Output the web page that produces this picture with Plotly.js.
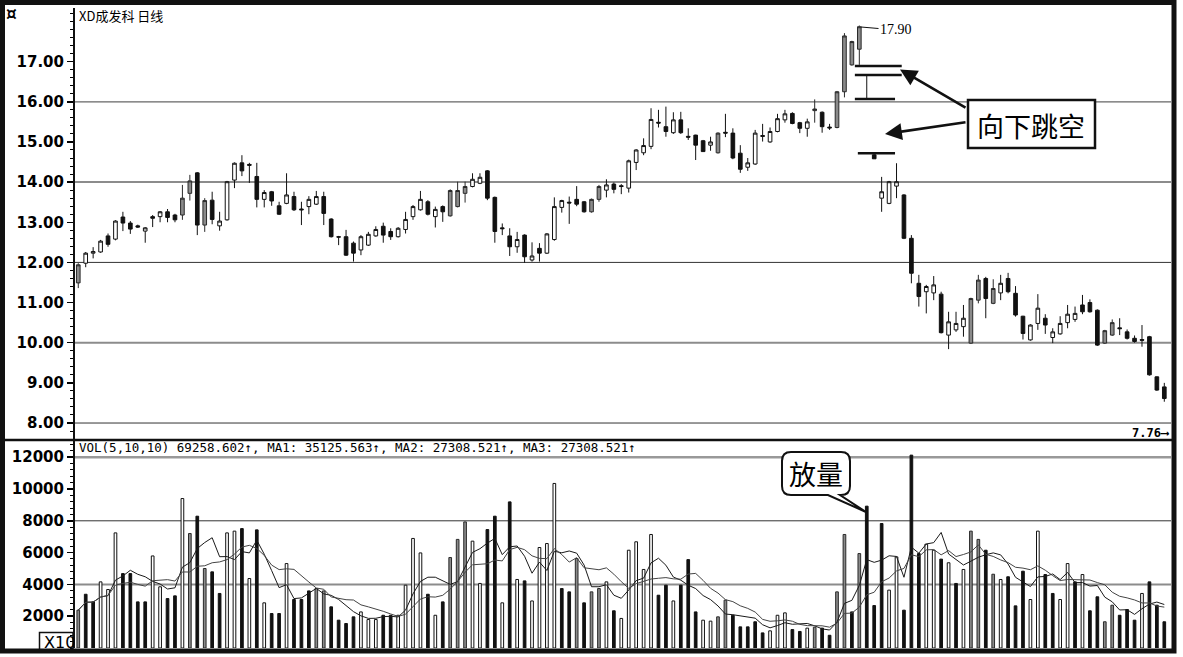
<!DOCTYPE html>
<html><head><meta charset="utf-8">
<script src="https://cdn.plot.ly/plotly-3.0.1.min.js"></script>
<style>html,body{margin:0;padding:0;background:#fff;}#chart{width:1183px;height:657px;}</style>
</head><body><div id="chart"></div>
<script>
// ---------- data ----------
const opens = [11.49,11.98,12.23,12.26,12.66,12.58,13.13,12.98,12.91,12.78,
13.14,13.14,13.26,13.18,13.18,13.72,14.23,12.93,13.55,12.91,
13.06,14.05,14.48,14.44,14.14,13.57,13.76,13.41,13.47,13.64,
13.33,13.39,13.45,13.64,13.08,12.64,12.64,12.48,12.31,12.43,
12.66,12.90,12.77,12.64,12.82,13.14,13.31,13.51,13.14,13.39,
13.16,13.39,13.72,13.89,13.97,14.28,13.62,12.86,12.66,12.39,
12.68,12.06,12.35,12.23,12.57,13.37,13.50,13.57,13.51,13.26,
13.57,13.80,13.95,13.91,13.85,14.49,14.73,14.89,15.49,15.38,
15.23,15.55,15.14,15.17,15.03,14.92,14.73,15.24,15.22,14.72,
14.37,14.45,15.16,15.00,15.26,15.55,15.71,15.48,15.34,15.78,
15.74,15.37,15.36,16.25,16.92,17.31,16.08,14.68,13.60,13.47,
13.90,13.68,12.60,11.48,11.27,11.24,11.21,10.19,10.32,10.40,
9.99,11.06,11.60,10.98,11.24,11.60,11.23,10.66,10.07,10.48,
10.61,10.13,10.22,10.50,10.58,10.94,11.00,10.81,9.99,10.19,
10.37,10.27,10.11,10.08,10.15,9.15,8.90];
const highs = [11.98,12.26,12.38,12.56,12.72,13.05,13.26,13.03,12.94,12.88,
13.18,13.28,13.33,13.21,13.93,14.18,14.25,13.60,13.76,13.26,
14.03,14.49,14.67,14.48,14.48,13.80,13.78,13.51,14.22,13.76,
13.51,13.65,13.78,13.76,13.10,12.66,12.81,12.52,12.68,12.76,
12.90,12.99,12.85,12.88,13.26,13.43,13.78,13.55,13.39,13.42,
13.82,14.01,14.01,14.22,14.22,14.30,13.64,12.97,12.85,12.76,
12.70,12.50,12.48,12.73,13.62,13.56,13.64,13.90,13.53,13.59,
13.93,14.07,13.99,13.95,14.56,14.82,15.09,15.84,15.80,15.88,
15.74,15.75,15.34,15.18,15.05,15.13,15.24,15.70,15.34,14.92,
14.60,15.30,15.45,15.36,15.70,15.80,15.74,15.50,15.58,16.06,
15.76,15.45,16.27,17.71,17.52,17.90,16.67,14.72,14.13,14.03,
14.47,13.70,12.68,11.69,11.44,11.66,11.27,10.77,10.77,10.94,
11.12,11.69,11.64,11.58,11.69,11.74,11.41,10.67,10.46,11.21,
10.71,10.36,10.66,10.94,10.90,11.19,11.08,10.83,10.32,10.58,
10.61,10.33,10.18,10.44,10.17,9.16,9.00];
const lows = [11.36,11.88,12.10,12.24,12.39,12.55,12.78,12.71,12.86,12.49,
12.88,13.00,13.00,13.00,13.06,13.54,12.68,12.76,12.95,12.79,
13.04,13.85,14.15,13.98,13.37,13.37,13.41,13.18,13.45,13.28,
12.93,13.20,13.43,12.93,12.62,12.43,12.16,12.02,12.18,12.41,
12.64,12.49,12.56,12.62,12.72,13.06,13.29,13.17,12.87,13.01,
13.14,13.37,13.49,13.87,13.95,13.55,12.49,12.68,12.16,12.24,
11.99,12.02,12.02,12.21,12.54,13.24,12.96,13.40,13.24,13.24,
13.51,13.62,13.72,13.70,13.74,14.30,14.67,14.82,15.36,15.13,
15.20,15.20,15.05,14.55,14.75,14.78,14.71,15.12,14.57,14.23,
14.28,14.43,15.01,14.98,15.24,15.48,15.44,15.22,15.13,15.48,
15.23,15.30,15.34,16.11,16.90,16.92,16.07,14.58,13.26,13.45,
13.60,12.58,11.48,10.90,10.73,11.06,10.23,9.84,10.27,10.15,
9.97,10.98,10.61,10.96,11.06,11.23,10.65,10.08,10.05,10.32,
10.22,9.99,10.20,10.36,10.52,10.71,10.75,9.92,9.97,10.17,
10.19,10.08,10.00,9.90,9.18,8.80,8.53];
const closes = [11.94,12.23,12.27,12.53,12.45,13.03,12.98,12.83,12.88,12.86,
13.10,13.26,13.12,13.06,13.60,14.03,12.93,13.54,13.07,13.03,
14.01,14.47,14.28,14.42,13.57,13.74,13.53,13.20,13.68,13.31,
13.31,13.57,13.64,13.22,12.64,12.63,12.18,12.23,12.64,12.70,
12.82,12.68,12.64,12.85,13.07,13.39,13.57,13.20,13.32,13.26,
13.79,13.79,13.89,14.07,14.12,13.60,12.77,12.84,12.39,12.57,
12.14,12.16,12.23,12.71,13.39,13.54,13.48,13.45,13.26,13.57,
13.89,13.93,13.82,13.89,14.53,14.80,14.91,15.56,15.47,15.26,
15.55,15.23,15.12,14.92,14.76,15.00,15.22,15.22,14.60,14.32,
14.48,15.22,15.14,15.26,15.58,15.70,15.46,15.34,15.50,15.82,
15.38,15.35,16.25,17.64,17.50,17.87,16.08,14.58,13.76,14.01,
14.01,12.60,11.73,11.15,11.40,11.44,10.25,10.52,10.48,10.61,
11.10,11.56,11.10,11.35,11.48,11.27,10.69,10.23,10.44,10.86,
10.44,10.27,10.48,10.71,10.73,10.77,10.77,9.94,10.30,10.50,
10.35,10.11,10.03,10.06,9.20,8.82,8.61];
// u = hollow, d = solid black, g = grey
const candleKind = ("guuududddu"+"duddggdgdu"+"uuddduddud"+"duuddddduu"+"udduuuudud"+
  "ggguuddddu"+"duduuudddg"+"gudduuuudd"+"uddddugddd"+"uuduuuddug"+
  "ddggggdduu"+"uddduuduuu"+"ggdguddduu"+"duuuudddgg"+"ddddddd").split("");
const volumes = [2380,3380,2900,4160,3680,7240,4680,4680,2900,2900,
5790,3850,3110,3280,9400,7200,8290,5000,4790,3430,
7240,7350,7510,4370,7430,2840,2170,2170,5310,3050,
3050,3590,3740,3590,2590,1750,1540,1960,2270,1790,
1790,2060,2060,2060,3950,6890,5980,3380,2060,2900,
5690,6830,7930,6720,4060,7450,8290,2840,9190,4310,
4220,2960,6320,6570,10350,3740,3530,5630,2840,3530,
3740,4160,2340,1860,6150,6680,4940,7140,3320,3950,
2960,3950,5560,2270,1750,1690,1960,3010,2060,1330,
1330,1650,950,1080,2060,2210,1160,1040,1250,1310,
1250,800,3530,7140,2270,5940,8920,2670,7830,3640,
5730,2380,12130,5940,6530,6150,5590,5360,4060,4940,
7350,6830,6150,4640,4310,4480,2650,4830,3050,7350,
4620,3430,3050,5310,4160,4620,2340,3220,1650,2690,
2060,2420,1750,3430,4160,2690,1650];
const volumeKind = ("gdduuudddd"+"uuddugdgdd"+"uudududdud"+"ddggdddduu"+"udduuuudud"+
  "ggguuddudu"+"duuuuddgdg"+"guduuuuudd"+"uddduuggdd"+"ddduuuddug"+
  "ddggdgdddu"+"uddduududu"+"ggdguddduu"+"dduududdgg"+"ddduddd").split("");
const priceTicks = [8,9,10,11,12,13,14,15,16,17];
const priceGridLevels = [8,10,12,14,16];
const volumeTicks = [2000,4000,6000,8000,10000,12000];
const volumeGridLevels = [4000,8000,12000];
const gapLevels = [16.89,16.67,16.07,14.72];
const headerText = "XD成发科 日线";
const volHeader = "VOL(5,10,10) 69258.602↑, MA1: 35125.563↑, MA2: 27308.521↑, MA3: 27308.521↑";
const peakLabel = "17.90";
const lowLabel = "7.76⟶";
const gapLabel = "向下跳空";
const volumeLabel = "放量";

// ---------- build ----------
const dayIndex = opens.map((_, i) => i);
const L = 75, R = 1171, T = 8, B = 648;
const px = x => (x - L) / (R - L);
const py = y => (B - y) / (B - T);
const P = (x, y) => px(x).toFixed(5) + ',' + py(y).toFixed(5);

const kindStyle = {
  u: {fill: '#ffffff', line: '#111111'},
  d: {fill: '#111111', line: '#111111'},
  g: {fill: '#8a8a8a', line: '#2a2a2a'}
};

const traces = [];
['u', 'd', 'g'].forEach(k => {
  const idx = dayIndex.filter(i => candleKind[i] === k);
  const st = kindStyle[k];
  traces.push({
    type: 'candlestick', xaxis: 'x', yaxis: 'y',
    x: idx, open: idx.map(i => opens[i]), high: idx.map(i => highs[i]),
    low: idx.map(i => lows[i]), close: idx.map(i => closes[i]),
    increasing: {line: {color: st.line, width: 1}, fillcolor: st.fill},
    decreasing: {line: {color: st.line, width: 1}, fillcolor: st.fill},
    hoverinfo: 'skip', showlegend: false
  });
});

traces.push({
  type: 'bar', xaxis: 'x2', yaxis: 'y2', x: dayIndex, y: volumes, width: 0.36,
  marker: {color: volumeKind.map(k => kindStyle[k].fill),
           line: {color: volumeKind.map(k => kindStyle[k].line), width: 1}},
  hoverinfo: 'skip', showlegend: false
});

function movingAverage(vals, n) {
  return vals.map((_, i) => {
    const w = vals.slice(Math.max(0, i - n + 1), i + 1);
    return w.reduce((a, b) => a + b, 0) / w.length;
  });
}
traces.push({type: 'scatter', mode: 'lines', xaxis: 'x2', yaxis: 'y2', x: dayIndex,
  y: movingAverage(volumes, 5), line: {color: '#1a1a1a', width: 1}, hoverinfo: 'skip'});
traces.push({type: 'scatter', mode: 'lines', xaxis: 'x2', yaxis: 'y2', x: dayIndex,
  y: movingAverage(volumes, 10), line: {color: '#444444', width: 1}, hoverinfo: 'skip'});

const xRange = [-0.44, 146.9];
const splitY = py(440);
const tickFont = {family: 'DejaVu Sans', size: 15, color: '#000', weight: 700};

const priceGridStyle = {8: ['#333', 1], 10: ['#8c8c8c', 2], 12: ['#333', 1], 14: ['#8c8c8c', 2], 16: ['#666', 1.2]};
const volGridStyle = {4000: ['#8c8c8c', 2], 8000: ['#333', 1], 12000: ['#999', 2.5]};

const shapes = [];
priceGridLevels.forEach(v => shapes.push({type: 'line', xref: 'paper', yref: 'y', x0: 0, x1: 1, y0: v, y1: v,
  layer: 'below', line: {color: priceGridStyle[v][0], width: priceGridStyle[v][1]}}));
volumeGridLevels.forEach(v => shapes.push({type: 'line', xref: 'paper', yref: 'y2', x0: 0, x1: 1, y0: v, y1: v,
  layer: 'below', line: {color: volGridStyle[v][0], width: volGridStyle[v][1]}}));
// gap marker lines
const gapSpans = [[104.4, 110.7], [104.4, 110.7], [104.4, 109.8], [104.8, 109.8]];
gapLevels.forEach((v, j) => shapes.push({type: 'line', xref: 'x', yref: 'y', x0: gapSpans[j][0], x1: gapSpans[j][1],
  y0: v, y1: v, line: {color: '#111', width: 2.5}}));
// separator between panels
shapes.push({type: 'line', xref: 'paper', yref: 'paper', x0: px(0), x1: px(1173), y0: splitY, y1: splitY,
  line: {color: '#111', width: 2.5}});
// box around 向下跳空
shapes.push({type: 'rect', xref: 'paper', yref: 'paper', x0: px(968), x1: px(1095), y0: py(148), y1: py(100),
  fillcolor: '#fff', line: {color: '#111', width: 2.5}});
// 放量 callout
const calloutPath = 'M' + P(791, 452) + ' L' + P(841, 452) + ' Q' + P(850, 452) + ' ' + P(850, 461) +
  ' L' + P(850, 486) + ' Q' + P(850, 495) + ' ' + P(841, 495) + ' L' + P(840, 495) + ' L' + P(866, 512) +
  ' L' + P(828, 495) + ' L' + P(791, 495) + ' Q' + P(782, 495) + ' ' + P(782, 486) + ' L' + P(782, 461) +
  ' Q' + P(782, 452) + ' ' + P(791, 452) + ' Z';
shapes.push({type: 'path', xref: 'paper', yref: 'paper', path: calloutPath, fillcolor: '#fff',
  line: {color: '#111', width: 2}});
// X10 box
shapes.push({type: 'rect', xref: 'paper', yref: 'paper', x0: px(39.5), x1: px(73), y0: py(652), y1: py(632.5),
  line: {color: '#111', width: 1.5}});
// outer frame
shapes.push({type: 'rect', xref: 'paper', yref: 'paper', x0: px(2.5), x1: px(1174), y0: py(651), y1: py(2.5),
  line: {color: '#111', width: 5}});

function label(x, y, text, font, xanchor) {
  return {xref: 'paper', yref: 'paper', x: px(x), y: py(y), text: text, showarrow: false,
    xanchor: xanchor || 'center', yanchor: 'middle', font: font};
}
const annotations = [
  label(11, 14, '¤', {family: 'DejaVu Sans', size: 17, color: '#000', weight: 700}),
  label(77, 15, headerText, {family: 'Noto Sans CJK SC', size: 13, color: '#000'}, 'left'),
  label(77, 447, volHeader, {family: 'DejaVu Sans Mono, DejaVu Sans', size: 12.5, color: '#000'}, 'left'),
  label(1171, 433, lowLabel, {family: 'DejaVu Sans Mono, DejaVu Sans', size: 12, color: '#000', weight: 700}, 'right'),
  {xref: 'paper', yref: 'paper', x: px(861), y: py(27), text: peakLabel, showarrow: true, arrowhead: 0,
   arrowwidth: 1, arrowcolor: '#111', ax: 35, ay: 3, xanchor: 'center', yanchor: 'middle',
   font: {family: 'Liberation Serif', size: 14, color: '#000'}},
  label(1031, 125, gapLabel, {family: 'Noto Sans CJK SC', size: 27, color: '#000'}),
  {xref: 'paper', yref: 'paper', x: px(900), y: py(69.5), text: '', showarrow: true, arrowhead: 2,
   arrowsize: 1.3, arrowwidth: 2.6, arrowcolor: '#111', ax: 67, ay: 39},
  {xref: 'paper', yref: 'paper', x: px(885), y: py(134), text: '', showarrow: true, arrowhead: 2,
   arrowsize: 1.3, arrowwidth: 2.6, arrowcolor: '#111', ax: 82, ay: -12},
  label(816, 473, volumeLabel, {family: 'Noto Sans CJK SC', size: 27, color: '#000'}),
  label(42, 642, 'X10', {family: 'DejaVu Sans', size: 16, color: '#000'}, 'left')
];

const hiddenX = {range: xRange, showticklabels: false, showgrid: false, zeroline: false, showline: false,
  ticks: '', fixedrange: true};

const layout = {
  width: 1183, height: 657, margin: {l: L, r: 1183 - R, t: T, b: 657 - B},
  paper_bgcolor: '#fff', plot_bgcolor: '#fff', showlegend: false,
  boxgap: 0.3, boxgroupgap: 0.3,
  xaxis: Object.assign({anchor: 'y', domain: [0, 1], rangeslider: {visible: false}}, hiddenX),
  xaxis2: Object.assign({anchor: 'y2', domain: [0, 1]}, hiddenX),
  yaxis: {domain: [splitY, 1], range: [7.577, 18.336], tickmode: 'array', tickvals: priceTicks,
    tickformat: '.2f', tickfont: tickFont, ticks: 'outside', ticklen: 6, tickwidth: 1.5, tickcolor: '#000',
    showgrid: false, zeroline: false, showline: true, linewidth: 2, linecolor: '#111',
    minor: {dtick: 0.2, tick0: 0, ticks: 'outside', ticklen: 3, tickwidth: 1, tickcolor: '#000', showgrid: false}},
  yaxis2: {domain: [0, splitY], range: [0, 13082], tickmode: 'array', tickvals: volumeTicks,
    tickformat: 'd', tickfont: tickFont, ticks: 'outside', ticklen: 6, tickwidth: 1.5, tickcolor: '#000',
    showgrid: false, zeroline: false, showline: true, linewidth: 2, linecolor: '#111',
    minor: {dtick: 400, tick0: 0, ticks: 'outside', ticklen: 3, tickwidth: 1, tickcolor: '#000', showgrid: false}},
  shapes: shapes, annotations: annotations
};

Plotly.newPlot('chart', traces, layout, {displayModeBar: false, staticPlot: true});
</script>
</body></html>
